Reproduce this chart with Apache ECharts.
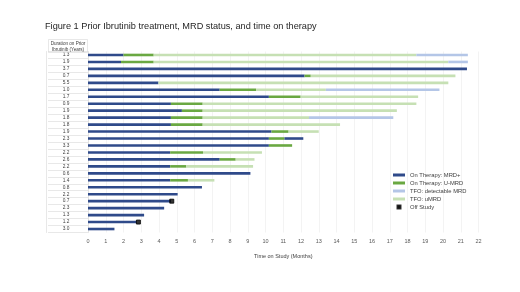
<!DOCTYPE html>
<html>
<head>
<meta charset="utf-8">
<script src="https://cdn.jsdelivr.net/npm/echarts@6/dist/echarts.min.js"></script>
<style>
  html, body { margin: 0; padding: 0; background: #fff; }
  #chart { width: 520px; height: 292px; }
</style>
</head>
<body>
<div id="chart"></div>
<script>
// Duration on prior ibrutinib (years), one per patient row, top to bottom
var priorYears = ['1.3', '1.9', '3.7', '0.7', '5.5', '1.0', '1.7', '0.9', '1.9', '1.8', '1.8', '1.9', '2.3',
                  '3.3', '2.2', '2.6', '2.2', '0.6', '1.4', '0.8', '2.2', '0.7', '2.3', '1.3', '1.2', '3.0'];

// segment lengths in months, stacked left to right
var mrdPos   = [2.0, 1.86, 21.35, 12.2, 3.97, 7.42, 10.19, 4.67, 5.29, 4.67, 4.67, 10.34, 10.19,
                10.19, 4.63, 7.42, 4.63, 9.15, 4.63, 6.42, 5.05, 4.67, 4.29, 3.16, 2.75, 1.49];
var uMrd     = [1.7, 1.84, 0, 0.35, 0, 2.05, 1.79, 1.79, 1.17, 1.79, 1.79, 0.96, 0.88,
                1.31, 1.85, 0.9, 0.91, 0, 1.0, 0, 0, 0, 0, 0, 0, 0];
var mrdPos2  = [0, 0, 0, 0, 0, 0, 0, 0, 0, 0, 0, 0, 1.06,
                0, 0, 0, 0, 0, 0, 0, 0, 0, 0, 0, 0, 0];
var tfoUmrd  = [14.8, 16.6, 0, 8.15, 16.33, 3.93, 6.62, 12.04, 10.94, 5.99, 7.74, 1.7, 0,
                0, 3.32, 1.06, 3.76, 0, 1.49, 0, 0, 0, 0, 0, 0, 0];
var tfoDet   = [2.9, 1.1, 0, 0, 0, 6.4, 0, 0, 0, 4.75, 0, 0, 0,
                0, 0, 0, 0, 0, 0, 0, 0, 0, 0, 0, 0, 0];
// [month, row index]
var offStudy = [[4.72, 21], [2.84, 24]];

var FONT = 'Liberation Sans';
var myChart = echarts.init(document.getElementById('chart'));

function barSeries(name, data, color) {
	return {
		name: name,
		type: 'bar',
		stack: 'time',
		barWidth: 2.6,
		data: data,
		itemStyle: { color: color },
		silent: true
	};
}

var option = {
	animation: false,
	textStyle: { fontFamily: FONT },
	title: [
		{
			text: 'Figure 1 Prior Ibrutinib treatment, MRD status, and time on therapy',
			left: 40,
			top: 17,
			textStyle: { fontSize: 9.2, fontWeight: 'normal', color: '#262626', fontFamily: FONT }
		},
		{
			text: 'Duration on Prior\nIbrutinib (Years)',
			left: 66,
			top: 39,
			textAlign: 'center',
			padding: [2, 2, 1, 2],
			borderColor: '#d9d9d9',
			borderWidth: 0.6,
			textStyle: { fontSize: 4.6, lineHeight: 5.5, fontWeight: 'normal', color: '#404040', fontFamily: FONT }
		}
	],
	legend: {
		orient: 'vertical',
		left: 392,
		top: 172,
		padding: 0,
		itemWidth: 12,
		itemHeight: 3,
		itemGap: 2,
		textStyle: { fontSize: 5.8, color: '#404040', fontFamily: FONT },
		data: [
			{ name: 'On Therapy: MRD+', icon: 'rect' },
			{ name: 'On Therapy: U-MRD', icon: 'rect' },
			{ name: 'TFO: detectable MRD', icon: 'rect' },
			{ name: 'TFO: uMRD', icon: 'rect' },
			{ name: 'Off Study', icon: 'path://M0,0M4.5,0h3v3h-3zM12,3' }
		]
	},
	grid: { left: 88, right: 41.5, top: 51.5, bottom: 59.5 },
	xAxis: {
		type: 'value',
		min: 0,
		max: 22,
		interval: 1,
		axisLine: { show: false },
		axisTick: { show: false },
		axisLabel: { fontSize: 5.5, color: '#595959', margin: 6 },
		splitLine: { lineStyle: { color: '#ebebeb', width: 0.6 } },
		name: 'Time on Study (Months)',
		nameLocation: 'middle',
		nameGap: 21,
		nameTextStyle: { fontSize: 5.5, color: '#404040' }
	},
	yAxis: [
		{
			type: 'category',
			inverse: true,
			data: priorYears,
			offset: 2,
			axisLine: { show: true, lineStyle: { color: '#d9d9d9', width: 0.6 } },
			axisTick: { show: true, length: 40, interval: 0, lineStyle: { color: '#d9d9d9', width: 0.6 } },
			axisLabel: { fontSize: 4.8, color: '#404040', margin: 20, align: 'center', interval: 0 }
		},
		{
			type: 'category',
			inverse: true,
			data: priorYears,
			position: 'left',
			offset: 42,
			axisLine: { show: true, lineStyle: { color: '#d9d9d9', width: 0.6 } },
			axisTick: { show: false },
			axisLabel: { show: false }
		}
	],
	series: [
		barSeries('On Therapy: MRD+', mrdPos, '#2f4a8a'),
		barSeries('On Therapy: U-MRD', uMrd, '#6aa842'),
		barSeries('On Therapy: MRD+', mrdPos2, '#2f4a8a'),
		barSeries('TFO: uMRD', tfoUmrd, '#c6e0b4'),
		barSeries('TFO: detectable MRD', tfoDet, '#b4c6e7'),
		{
			name: 'Off Study',
			type: 'scatter',
			symbol: 'rect',
			symbolSize: 4,
			data: offStudy,
			itemStyle: { color: '#000', borderColor: '#000', borderWidth: 1 },
			z: 5,
			silent: true
		}
	]
};
myChart.setOption(option);
</script>
</body>
</html>
